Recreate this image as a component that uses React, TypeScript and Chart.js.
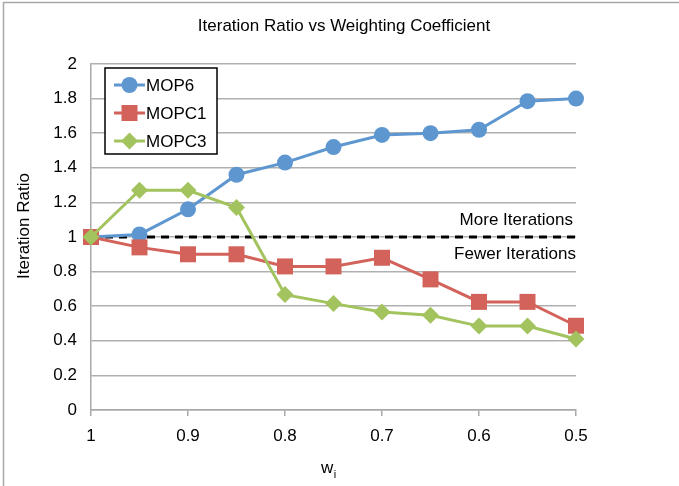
import React, { useEffect, useRef } from 'react';
import { Chart, registerables } from 'chart.js';

Chart.register(...registerables);

const weights = [1, 0.95, 0.9, 0.85, 0.8, 0.75, 0.7, 0.65, 0.6, 0.55, 0.5];
const mop6 = [1.0, 1.015, 1.16, 1.36, 1.43, 1.52, 1.59, 1.60, 1.62, 1.785, 1.80];
const mopc1 = [1.0, 0.94, 0.9, 0.9, 0.83, 0.83, 0.88, 0.755, 0.625, 0.625, 0.487];
const mopc3 = [1.0, 1.27, 1.27, 1.17, 0.667, 0.615, 0.567, 0.548, 0.485, 0.485, 0.41];
const seriesNames = ['MOP6', 'MOPC1', 'MOPC3'];
const thresholdX = [1, 0.5];
const thresholdY = [1, 1];
const xTicks = [1, 0.9, 0.8, 0.7, 0.6, 0.5];
const yTicks = [0, 0.2, 0.4, 0.6, 0.8, 1, 1.2, 1.4, 1.6, 1.8, 2];
const titleText = 'Iteration Ratio vs Weighting Coefficient';
const yTitle = 'Iteration Ratio';
const xTitleMain = 'w';
const xTitleSub = 'i';
const moreText = 'More Iterations';
const fewerText = 'Fewer Iterations';

const BLUE = '#5E97CF';
const RED = '#D2625A';
const GREEN = '#A2C35E';
const FONT = '"Liberation Sans", Arial, Helvetica, sans-serif';

function drawMarker(ctx: CanvasRenderingContext2D, style: string, x: number, y: number, color: string) {
  ctx.fillStyle = color;
  ctx.beginPath();
  if (style === 'circle') {
    ctx.arc(x, y, 8, 0, Math.PI * 2);
  } else if (style === 'rect') {
    ctx.rect(x - 8, y - 8, 16, 16);
  } else {
    ctx.moveTo(x, y - 8.5);
    ctx.lineTo(x + 8.5, y);
    ctx.lineTo(x, y + 8.5);
    ctx.lineTo(x - 8.5, y);
    ctx.closePath();
  }
  ctx.fill();
}

export default function App() {
  const ref = useRef<HTMLCanvasElement>(null);

  useEffect(() => {
    const canvas = ref.current;
    if (!canvas) return;

    const toPts = (ys: number[]) => weights.map((w, i) => ({ x: w, y: ys[i] }));
    const colors = [BLUE, RED, GREEN];
    const styles = ['circle', 'rect', 'rectRot'];

    const overlay = {
      id: 'overlay',
      beforeDraw(chart: any) {
        const ctx = chart.ctx as CanvasRenderingContext2D;
        ctx.save();
        ctx.fillStyle = '#ffffff';
        ctx.fillRect(0, 0, chart.width, chart.height);
        ctx.strokeStyle = '#a8a8a8';
        ctx.lineWidth = 1.5;
        ctx.strokeRect(3.5, 2.5, chart.width + 20, chart.height + 20);
        ctx.restore();
      },
      afterDraw(chart: any) {
        const ctx = chart.ctx as CanvasRenderingContext2D;
        const area = chart.chartArea;
        const ys = chart.scales.y;
        ctx.save();
        ctx.fillStyle = '#000';
        ctx.font = `17px ${FONT}`;
        ctx.textBaseline = 'middle';
        // Title
        ctx.textAlign = 'center';
        ctx.fillText(titleText, 344, 26);
        // y title
        ctx.save();
        ctx.translate(24, 226);
        ctx.rotate(-Math.PI / 2);
        ctx.fillText(yTitle, 0, 0);
        ctx.restore();
        // x title with subscript
        ctx.textAlign = 'left';
        ctx.fillText(xTitleMain, 321, 468);
        const wW = ctx.measureText(xTitleMain).width;
        ctx.font = `11px ${FONT}`;
        ctx.fillText(xTitleSub, 321 + wW + 0.5, 475);
        // annotations
        ctx.font = `17px ${FONT}`;
        ctx.textAlign = 'right';
        const y1 = ys.getPixelForValue(1);
        ctx.fillText(moreText, area.right - 3, y1 - 17);
        ctx.fillText(fewerText, area.right, y1 + 17);
        // legend
        const bx = 105, by = 68, bw = 112, bh = 86;
        ctx.fillStyle = '#fff';
        ctx.fillRect(bx, by, bw, bh);
        ctx.strokeStyle = '#000';
        ctx.lineWidth = 1.5;
        ctx.strokeRect(bx, by, bw, bh);
        seriesNames.forEach((name, i) => {
          const yy = by + 17 + i * 28;
          ctx.strokeStyle = colors[i];
          ctx.lineWidth = 3;
          ctx.beginPath();
          ctx.moveTo(114, yy);
          ctx.lineTo(145, yy);
          ctx.stroke();
          drawMarker(ctx, styles[i], 129.5, yy, colors[i]);
          ctx.fillStyle = '#000';
          ctx.textAlign = 'left';
          ctx.fillText(name, 146, yy + 1);
        });
        ctx.restore();
      },
    };

    const chart = new Chart(canvas, {
      type: 'line',
      data: {
        datasets: [
          {
            label: 'threshold',
            data: thresholdX.map((x, i) => ({ x, y: thresholdY[i] })),
            borderColor: '#000',
            borderWidth: 3,
            borderDash: [8, 6],
            pointRadius: 0,
            order: 4,
            clip: false,
          },
          {
            label: seriesNames[0],
            data: toPts(mop6),
            borderColor: BLUE,
            backgroundColor: BLUE,
            borderWidth: 3,
            pointStyle: 'circle',
            pointRadius: 8,
            pointBorderWidth: 0,
            order: 3,
            clip: false,
          },
          {
            label: seriesNames[1],
            data: toPts(mopc1),
            borderColor: RED,
            backgroundColor: RED,
            borderWidth: 3,
            pointStyle: 'rect',
            pointRadius: 11.3,
            pointBorderWidth: 0,
            order: 2,
            clip: false,
          },
          {
            label: seriesNames[2],
            data: toPts(mopc3),
            borderColor: GREEN,
            backgroundColor: GREEN,
            borderWidth: 3,
            pointStyle: 'rectRot',
            pointRadius: 8.5,
            pointBorderWidth: 0,
            order: 1,
            clip: false,
          },
        ],
      },
      options: {
        animation: false,
        responsive: true,
        maintainAspectRatio: false,
        layout: { padding: { top: 64, right: 103, left: 0, bottom: 0 } },
        plugins: {
          legend: { display: false },
          title: { display: false },
          tooltip: { enabled: false },
        },
        scales: {
          x: {
            type: 'linear',
            reverse: true,
            min: 0.5,
            max: 1,
            afterFit: (s: any) => { s.height = 76; },
            afterBuildTicks: (s: any) => { s.ticks = xTicks.map((v) => ({ value: v })); },
            grid: {
              drawOnChartArea: false,
              drawTicks: true,
              tickLength: 6,
              color: '#a8a8a8',
              lineWidth: 1.5,
            },
            border: { display: true, color: '#a8a8a8', width: 1.5 },
            ticks: {
              color: '#000',
              font: { family: FONT, size: 17 },
              padding: 10,
              maxRotation: 0,
              callback: (v: any) => String(Math.round(Number(v) * 10) / 10),
            },
          },
          y: {
            type: 'linear',
            min: 0,
            max: 2,
            afterFit: (s: any) => { s.width = 91; },
            afterBuildTicks: (s: any) => { s.ticks = yTicks.map((v) => ({ value: v })); },
            grid: {
              drawTicks: false,
              color: '#b0b0b0',
              lineWidth: 1.5,
            },
            border: { display: true, color: '#a8a8a8', width: 1.5 },
            ticks: {
              color: '#000',
              font: { family: FONT, size: 17 },
              padding: 14,
              callback: (v: any) => String(Math.round(Number(v) * 10) / 10),
            },
          },
        },
      },
      plugins: [overlay],
    } as any);

    return () => chart.destroy();
  }, []);

  return (
    <div style={{ position: 'absolute', left: 0, top: 0, width: 679, height: 486, background: '#fff' }}>
      <canvas ref={ref} />
    </div>
  );
}
